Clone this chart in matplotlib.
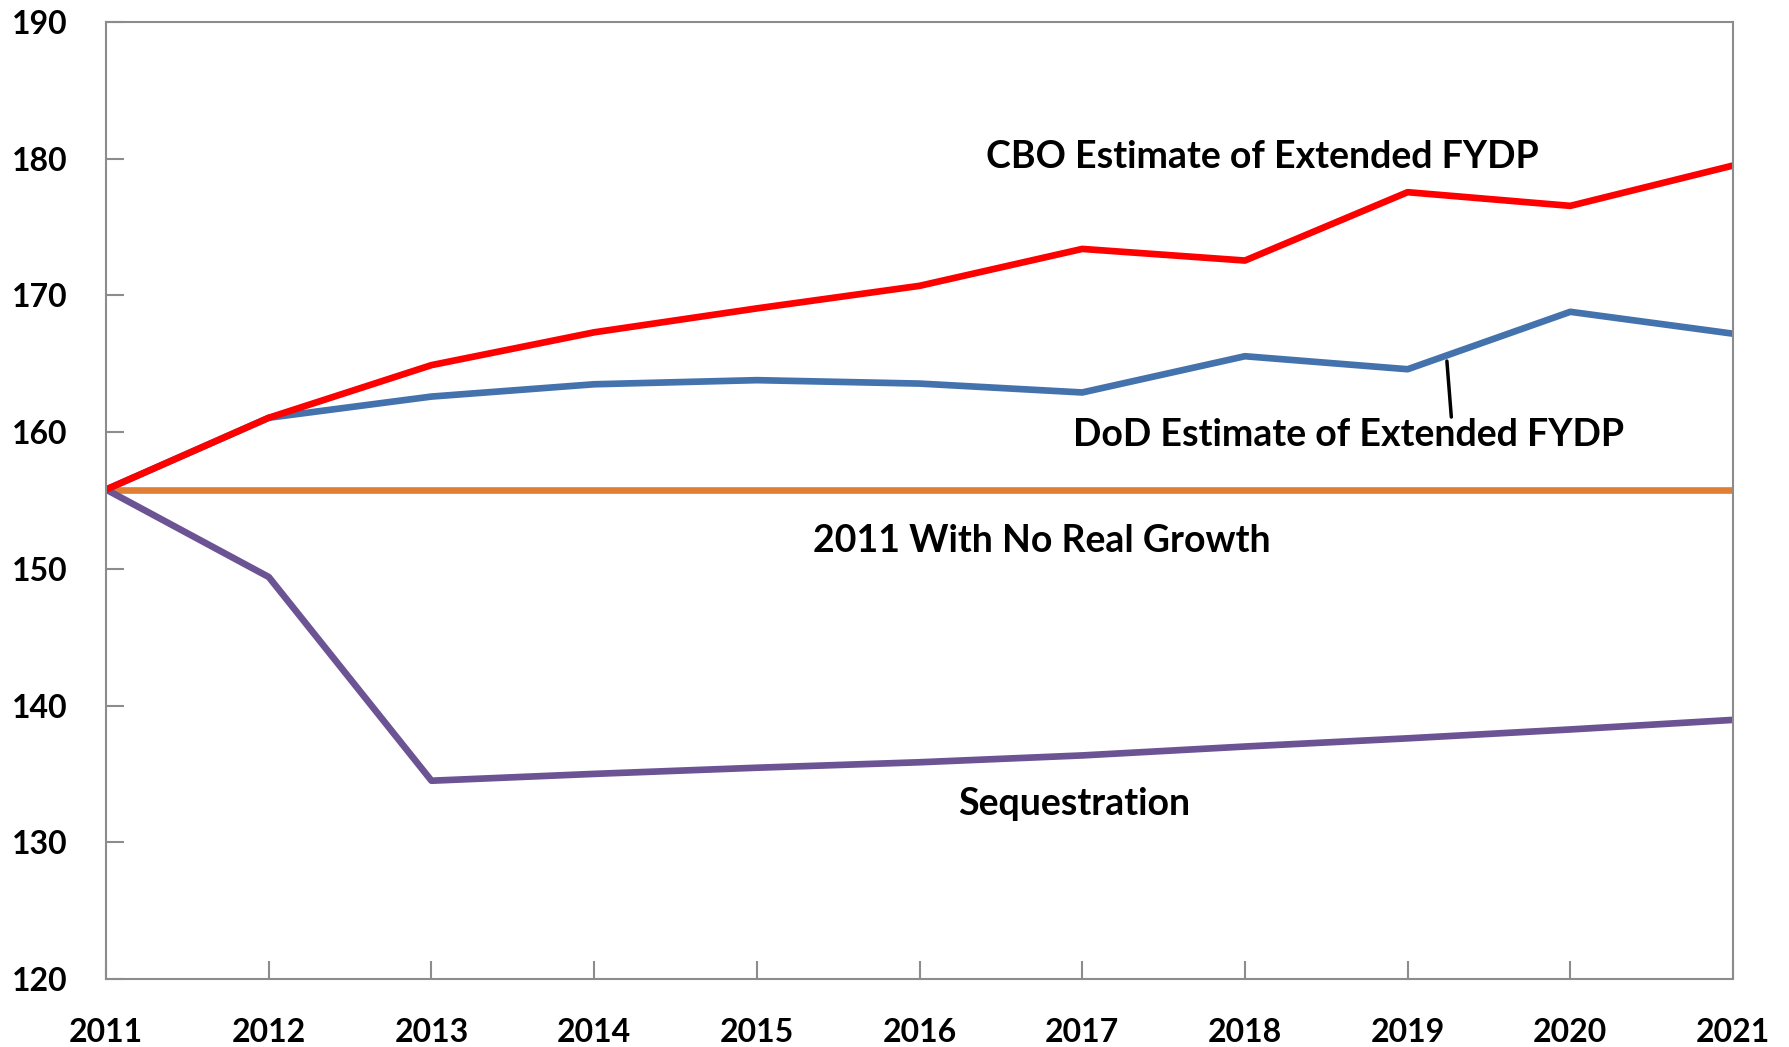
import matplotlib
matplotlib.use("Agg")
from matplotlib import pyplot as plt

# anni e serie
years = [2011, 2012, 2013, 2014, 2015, 2016, 2017, 2018, 2019, 2020, 2021]
cbo = [155.8, 161.05, 164.9, 167.3, 169.05, 170.7, 173.4, 172.55, 177.55, 176.55, 179.5]
dod = [155.8, 161.05, 162.6, 163.5, 163.8, 163.55, 162.9, 165.55, 164.6, 168.8, 167.2]
flat = [155.8] * 11
seq = [155.8, 149.4, 134.5, 135.0, 135.45, 135.85, 136.35, 137.0, 137.6, 138.25, 138.95]

plt.rcParams['font.family'] = ['Lato', 'DejaVu Sans']
plt.rcParams['font.weight'] = 'bold'

fig = plt.figure(figsize=(17.89, 10.47), dpi=100)
ax = fig.add_axes([0.0593, 0.065, 0.9094, 0.914])

ax.plot(years, flat, color='#E07F33', lw=4.8, solid_capstyle='butt')
ax.plot(years, seq, color='#6B5394', lw=4.8)
ax.plot(years, dod, color='#4472AD', lw=4.8)
ax.plot(years, cbo, color='#FF0000', lw=4.8)

ax.set_xlim(2011, 2021)
ax.set_ylim(120, 190)
ax.set_xticks(years)
ax.set_yticks(range(120, 191, 10))

for s in ax.spines.values():
    s.set_color('#8C8C8C')
    s.set_linewidth(1.5)

ax.tick_params(direction='in', length=13, width=1.5, color='#8C8C8C',
               labelsize=23)
ax.tick_params(axis='x', pad=28)
ax.tick_params(axis='y', pad=28)

# etichette delle serie
ax.text(2018.11, 180.1, 'CBO Estimate of Extended FYDP', fontsize=27,
        fontweight='bold', ha='center', va='center')
ax.text(2018.64, 159.8, 'DoD Estimate of Extended FYDP', fontsize=27,
        fontweight='bold', ha='center', va='center')
ax.annotate('', xy=(2019.24, 165.4), xytext=(2019.27, 160.9),
            arrowprops=dict(arrowstyle='-', color='black', lw=2.5))
ax.text(2016.75, 152.0, '2011 With No Real Growth', fontsize=27,
        fontweight='bold', ha='center', va='center')
ax.text(2016.95, 132.8, 'Sequestration', fontsize=27,
        fontweight='bold', ha='center', va='center')

for lab in ax.get_xticklabels() + ax.get_yticklabels():
    lab.set_fontweight('bold')

plt.savefig('out.png', dpi=100)
